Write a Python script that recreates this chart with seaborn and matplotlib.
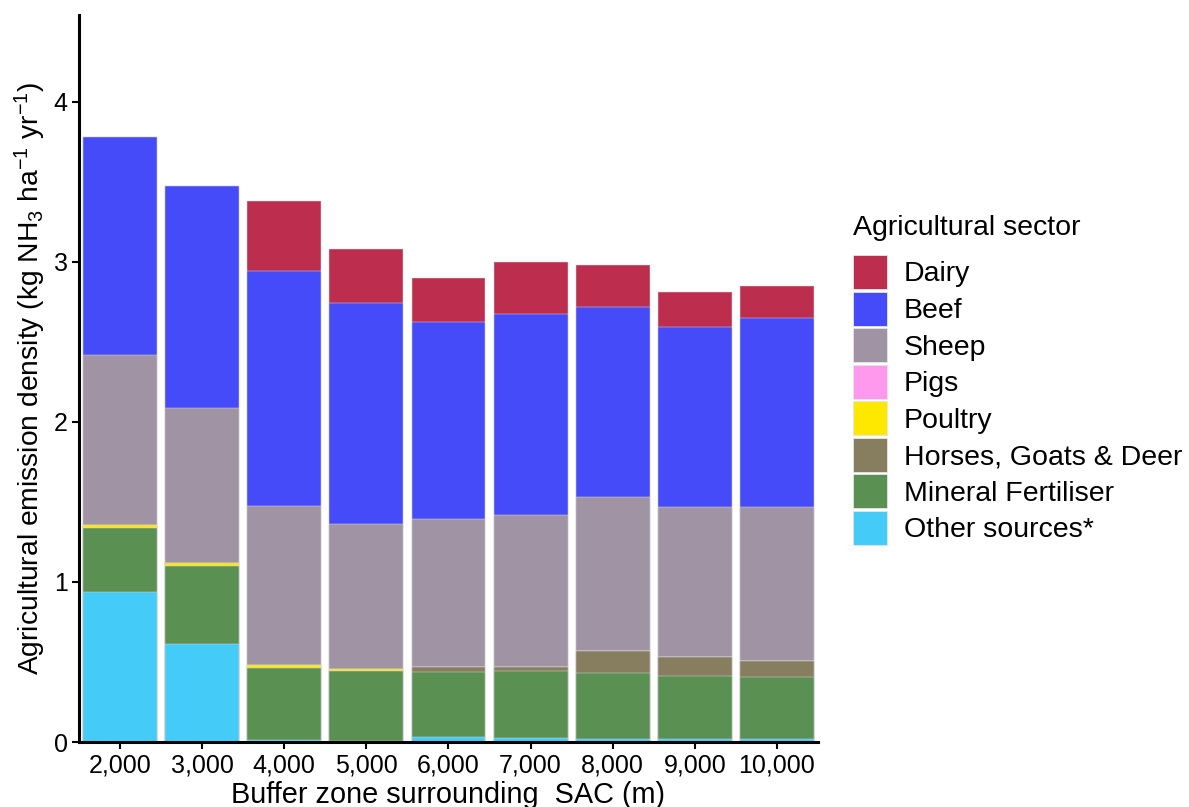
import matplotlib
matplotlib.use("Agg")
import matplotlib.pyplot as plt
from matplotlib.patches import Patch
import numpy as np
import pandas as pd
import seaborn as sns

# Buffer distances (m) and emission density per sector (kg NH3 / ha / yr)
buffers = ["2,000", "3,000", "4,000", "5,000", "6,000", "7,000", "8,000", "9,000", "10,000"]
other = [0.940, 0.612, 0.015, 0.004, 0.029, 0.023, 0.022, 0.019, 0.019]
fertiliser = [0.400, 0.486, 0.449, 0.441, 0.410, 0.422, 0.407, 0.395, 0.385]
horses = [0.000, 0.000, 0.000, 0.000, 0.031, 0.025, 0.139, 0.116, 0.100]
poultry = [0.013, 0.018, 0.016, 0.011, 0.000, 0.000, 0.000, 0.000, 0.000]
pigs = [0.0, 0.0, 0.0, 0.0, 0.0, 0.0, 0.0, 0.0, 0.0]
sheep = [1.062, 0.968, 0.993, 0.904, 0.922, 0.947, 0.961, 0.936, 0.962]
beef = [1.365, 1.392, 1.472, 1.380, 1.235, 1.254, 1.186, 1.124, 1.186]
dairy = [0.000, 0.000, 0.437, 0.343, 0.275, 0.329, 0.268, 0.224, 0.194]

sectors = ["Dairy", "Beef", "Sheep", "Pigs", "Poultry",
           "Horses, Goats & Deer", "Mineral Fertiliser", "Other sources*"]
colors = ["#BC2D4E", "#464BF9", "#A094A4", "#FF99EE", "#FFE800",
          "#877D5F", "#5A9052", "#44CBF7"]

# Stacking order from the ground up
stack = [("Other sources*", other), ("Mineral Fertiliser", fertiliser),
         ("Horses, Goats & Deer", horses), ("Poultry", poultry), ("Pigs", pigs),
         ("Sheep", sheep), ("Beef", beef), ("Dairy", dairy)]
color_of = dict(zip(sectors, colors))

sns.set_theme(style="ticks")
plt.rcParams["font.family"] = ["Liberation Sans", "DejaVu Sans"]
plt.rcParams["mathtext.fontset"] = "custom"
plt.rcParams["mathtext.rm"] = "Liberation Sans"
plt.rcParams["mathtext.it"] = "Liberation Sans"

fig = plt.figure(figsize=(11.89, 8.07), dpi=100)
ax = fig.add_axes([0.0664, 0.0805, 0.6216, 0.9005])

# Cumulative totals, drawn from the tallest down so each layer covers the next
cum = np.cumsum(np.array([v for _, v in stack]), axis=0)
for i in range(len(stack) - 1, -1, -1):
    name = stack[i][0]
    df = pd.DataFrame({"buffer": buffers, "value": cum[i]})
    sns.barplot(data=df, x="buffer", y="value", order=buffers, color=color_of[name],
                saturation=1, width=0.9, edgecolor="#d9d6dc", linewidth=0.35,
                errorbar=None, ax=ax)

ax.set_xlim(-0.5, 8.5)
ax.set_ylim(0, 4.54)
ax.set_yticks([0, 1, 2, 3, 4])
ax.set_yticklabels(["0", "1", "2", "3", "4"])
ax.tick_params(axis="both", labelsize=18, length=5, width=1.5, color="black",
               labelcolor="black", pad=3)
for s in ["top", "right"]:
    ax.spines[s].set_visible(False)
for s in ["left", "bottom"]:
    ax.spines[s].set_linewidth(2.2)
    ax.spines[s].set_color("black")

ax.set_xlabel("Buffer zone surrounding  SAC (m)", fontsize=20.8, labelpad=3, color="black")
ax.set_ylabel(r"Agricultural emission density (kg NH$_3$ ha$^{-1}$ yr$^{-1}$)",
              fontsize=20.3, labelpad=4, color="black")

# Legend: title placed as its own text so the gap above the keys can be set
fig.text(853 / 1189, 1 - 228 / 807, "Agricultural sector", fontsize=20.5,
         ha="left", va="center", color="black")
handles = [Patch(facecolor=c, edgecolor="#e6e6e6", linewidth=0.6, label=s)
           for s, c in zip(sectors, colors)]
fig.legend(handles=handles, loc="upper left",
           bbox_to_anchor=(0.7174, 0.684), frameon=False, fontsize=20.5,
           handlelength=1.19, handleheight=1.46, labelcolor="black",
           handletextpad=0.6, labelspacing=0.09,
           borderaxespad=0, borderpad=0)

fig.savefig("out.png", dpi=100, facecolor="white")
